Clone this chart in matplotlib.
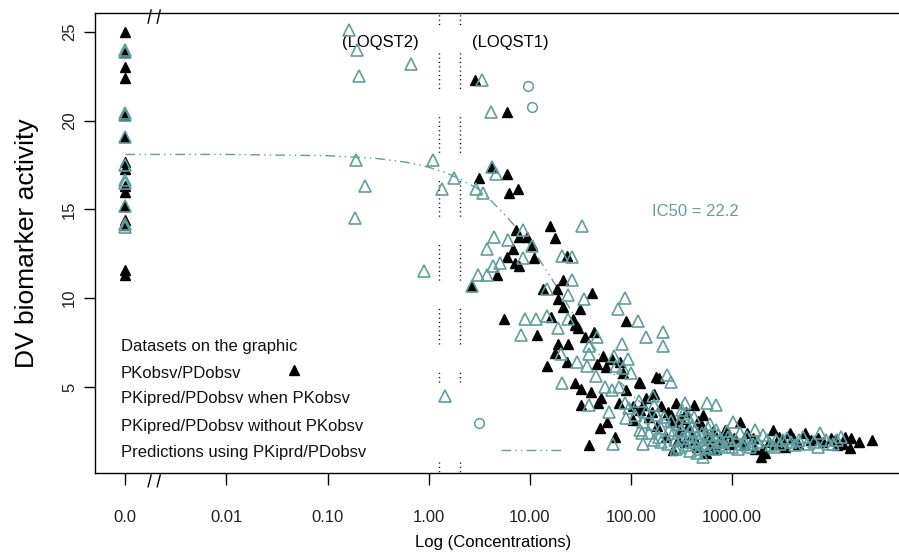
import numpy as np
import matplotlib
matplotlib.use("Agg")
import matplotlib.pyplot as plt
from matplotlib.patches import Rectangle
from matplotlib import transforms

plt.rcParams['font.family'] = ['Liberation Sans', 'DejaVu Sans']

TEAL = '#5F9EA0'

# PKobsv/PDobsv : concentration 0 means no drug measured
black_zero_dv = [25.0, 23.9, 23.0, 22.4, 20.35, 19.1, 17.7, 17.3, 16.3, 16.0,
                 15.2, 14.4, 14.1, 11.6, 11.3]
black_conc = [2.87, 5.96, 3.15, 4.2, 5.96, 6.2, 7.6, 15.8, 7.3, 7.8,
              9.4, 17.8, 10.5, 6.8, 6.0, 7.1, 7.8, 11.0, 23.4, 4.7,
              2.7, 21.5, 13.5, 18.6, 41, 19.1, 21.4, 31, 5.6, 16.2,
              27, 89, 28, 30, 11.8, 35, 43.5, 19.1, 24, 17.9,
              53, 65, 78, 23.4, 46, 56, 83, 14.8, 120, 123,
              178, 190, 28, 32, 40, 51, 47, 32, 76, 90,
              105, 123, 140, 160, 200, 58, 49, 105, 70, 38,
              150, 180, 220, 250, 260, 290, 300, 340, 370, 400,
              419, 450, 460, 500, 550, 600, 650, 700, 800, 850,
              950, 1200, 1300, 1600, 1950, 2000, 2100, 2300, 2550, 2900,
              3300, 3700, 4500, 5200, 6000, 8000, 9500, 11000, 12500, 14500,
              15000, 24000, 130, 170, 230, 280, 310, 350, 430, 520,
              560, 620, 750, 900, 1050, 1400, 1700, 2700, 3100, 4000,
              7000, 10500, 13000, 18000, 260]
black_dv = [22.3, 20.5, 16.8, 17.4, 17.0, 15.9, 16.15, 14.05, 13.85, 13.45,
            13.45, 13.4, 13.0, 12.8, 12.3, 12.0, 11.8, 12.25, 12.4, 11.3,
            10.7, 11.05, 10.5, 10.5, 10.3, 9.95, 9.5, 9.4, 8.8, 8.95,
            8.85, 8.7, 8.5, 8.3, 7.9, 7.8, 8.1, 7.4, 7.4, 6.9,
            6.75, 6.6, 6.4, 6.4, 6.3, 6.1, 5.8, 6.2, 5.3, 5.2,
            5.55, 5.5, 5.2, 4.9, 4.7, 4.4, 4.1, 4.0, 4.1, 4.8,
            3.9, 3.7, 4.4, 3.6, 3.9, 3.0, 2.7, 3.15, 2.2, 1.7,
            3.3, 2.8, 2.2, 3.4, 3.0, 2.0, 2.5, 1.9, 2.8, 2.3,
            4.0, 1.6, 3.1, 2.8, 1.3, 2.0, 2.5, 1.5, 2.2, 2.6,
            1.8, 3.0, 1.7, 2.1, 1.06, 1.5, 1.3, 1.9, 2.6, 2.2,
            1.6, 2.4, 1.8, 2.4, 2.0, 1.9, 2.1, 1.7, 1.8, 1.55,
            2.1, 2.0, 4.0, 4.6, 3.6, 4.1, 3.2, 3.6, 2.0, 3.4,
            2.2, 1.7, 1.9, 2.4, 2.1, 2.4, 1.5, 1.8, 2.0, 2.1,
            2.1, 2.0, 2.2, 1.9, 1.45]

# PKipred/PDobsv when PKobsv
teal_zero_dv = [24.0, 23.85, 20.45, 20.35, 19.1, 17.5, 16.65, 16.5, 15.2, 14.2, 14.0]
teal_conc = [0.163, 0.196, 0.67, 0.205, 0.192, 0.236, 0.187, 1.10, 1.78, 1.36,
             0.90, 2.94, 3.45, 4.2, 4.6, 3.37, 4.14, 32.8, 8.6, 4.4,
             6.1, 10.5, 3.8, 8.6, 5.1, 4.3, 3.1, 3.8, 2.7, 21,
             26, 26, 14.8, 24, 87, 34, 74, 9.0, 11.5, 14.8,
             23.6, 117, 19.1, 8.2, 46, 142, 209, 209, 81, 38,
             20.4, 38, 68, 93, 29, 37, 71, 83, 100, 229,
             251, 21, 45, 55, 65, 76, 166, 120, 170, 38,
             87, 95, 341, 560, 690, 316, 140, 60, 110, 180,
             363, 420, 89, 250, 130, 300, 600, 1020, 400, 200,
             123, 1680, 700, 260, 150, 129, 380, 7400, 560, 2000,
             450, 900, 1400, 5000, 12000, 320, 3500, 170, 1100, 2700,
             8500, 420, 640, 800, 1800, 6500, 66, 132, 230, 520,
             1250, 3000, 10000, 350, 740, 2400, 4200, 600, 1000, 1500,
             280, 480, 513, 160, 190, 210, 240, 270, 310, 330,
             360, 390, 430, 470, 500, 540, 580, 620, 660, 720,
             760, 850, 880, 950, 1150, 1200, 1350, 1600, 2200, 2600,
             3200, 3800, 4600, 5500, 7000, 9000, 11000, 450, 380, 300,
             200]
teal_dv = [25.1, 24.0, 23.2, 22.5, 17.8, 16.3, 14.5, 17.8, 16.8, 16.15,
           11.55, 16.15, 15.9, 17.4, 17.0, 22.3, 20.5, 14.05, 13.85, 13.45,
           13.3, 12.95, 12.8, 12.25, 12.0, 11.8, 11.3, 11.3, 10.7, 12.4,
           12.3, 11.05, 10.5, 10.2, 10.0, 9.95, 9.4, 8.8, 8.85, 9.0,
           8.85, 8.7, 8.3, 7.9, 7.8, 7.8, 8.1, 7.3, 7.4, 7.3,
           6.85, 6.85, 6.75, 6.6, 6.4, 6.2, 6.2, 6.05, 5.8, 5.7,
           5.3, 5.2, 5.6, 5.0, 4.8, 5.0, 4.5, 4.2, 4.0, 4.0,
           4.1, 3.8, 4.1, 4.1, 4.0, 3.7, 3.6, 3.6, 3.4, 3.4,
           3.3, 3.3, 3.25, 3.1, 3.0, 2.9, 2.9, 3.0, 2.8, 2.7,
           2.6, 2.6, 2.6, 2.4, 2.4, 2.4, 2.5, 2.4, 2.3, 2.3,
           2.2, 2.2, 2.2, 2.2, 2.2, 2.1, 2.1, 2.0, 2.0, 2.0,
           2.0, 1.9, 1.9, 1.9, 1.9, 1.9, 1.8, 1.8, 1.8, 1.8,
           1.8, 1.8, 1.8, 1.7, 1.7, 1.7, 1.7, 1.6, 1.6, 1.6,
           1.5, 1.5, 1.06, 2.9, 2.2, 3.3, 2.6, 2.0, 2.6, 3.5,
           2.3, 1.9, 2.6, 2.0, 2.4, 1.6, 2.7, 2.1, 1.5, 2.3,
           2.0, 1.6, 2.5, 2.0, 1.5, 2.4, 1.9, 1.8, 2.0, 1.6,
           2.0, 1.9, 2.0, 1.8, 1.6, 1.8, 2.0, 1.3, 1.4, 1.6,
           1.9]

# PKipred/PDobsv without PKobsv
circle_conc = [9.6, 10.5]
circle_dv = [21.95, 20.8]

# model predictions using PKiprd/PDobsv
pred_conc = [0, 0.01, 0.1, 0.3, 0.6, 1, 1.5, 2, 3, 4, 6, 8, 10, 13, 16, 22,
             30, 40, 60, 100, 150, 250, 500, 1000, 2000, 5000]
pred_dv = [18.1, 18.1, 18.03, 17.88, 17.66, 17.38, 17.05, 16.74, 16.2, 15.57,
           14.55, 13.72, 13.0, 12.0, 11.2, 9.93, 8.62, 7.5, 6.06, 4.6,
           3.73, 2.95, 2.3, 1.95, 1.78, 1.65]

loqst = [1.25, 2.05]
xtick_labels = ['0.0', '0.01', '0.10', '1.00', '10.00', '100.00', '1000.00']
legend_lines = ['Datasets on the graphic', 'PKobsv/PDobsv',
                'PKipred/PDobsv when PKobsv', 'PKipred/PDobsv without PKobsv',
                'Predictions using PKiprd/PDobsv']
ic50 = 22.2

ZERO_POS = -3.0


def xpos(c):
    c = np.asarray(c, dtype=float)
    safe = np.where(c > 0, c, 1.0)
    return np.where(c > 0, np.log10(safe), ZERO_POS)


fig = plt.figure(figsize=(8.99, 5.53), dpi=100)
ax = fig.add_axes([95 / 899, 1 - 473 / 553, 804 / 899, 460 / 553])

ymin, ymax = 0.15, 26.07

# LOQ limits, drawn as broken dotted verticals
dots = [0.8, 2.3] * 8 + [0.8, 20.4]
for c in loqst:
    ax.plot([xpos(c)] * 2, [ymax, ymin], color='k', lw=1.0,
            ls=(17.3, dots), zorder=1)

ax.plot(xpos(pred_conc), pred_dv, color=TEAL, lw=1.0,
        ls=(0, (7, 3, 1, 3, 1, 3)), zorder=2)

ax.plot(xpos([0] * len(black_zero_dv)), black_zero_dv, ls='none', marker='^',
        color='k', ms=7.5, zorder=3)
ax.plot(xpos(black_conc), black_dv, ls='none', marker='^', color='k', ms=7.5, zorder=3)
ax.plot(xpos([0] * len(teal_zero_dv)), teal_zero_dv, ls='none', marker='^',
        mfc='none', mec=TEAL, mew=1.2, ms=8.5, zorder=4)
ax.plot(xpos(teal_conc), teal_dv, ls='none', marker='^', mfc='none',
        mec=TEAL, mew=1.2, ms=8.5, zorder=4)
ax.plot(xpos(circle_conc), circle_dv, ls='none', marker='o', mfc='none',
        mec=TEAL, mew=1.1, ms=7, zorder=4)

# legend block
ax.add_patch(Rectangle((0.03, 0.026), 0.47, 0.165, transform=ax.transAxes,
                       fc='white', ec='none', zorder=2.5))
for yy, s in zip([0.276, 0.217, 0.161, 0.102, 0.0435], legend_lines):
    ax.text(0.032, yy, s, transform=ax.transAxes, fontsize=12,
            ha='left', va='center', color='#111111', zorder=5)
ax.plot([0.2475], [0.224], transform=ax.transAxes, marker='^', color='k',
        ms=7.5, ls='none', zorder=5)
ax.plot([0.435], [0.167], transform=ax.transAxes, marker='^', mfc='none',
        mec=TEAL, mew=1.2, ms=8.5, ls='none', zorder=5)
ax.plot([0.478], [0.109], transform=ax.transAxes, marker='o', mfc='none',
        mec=TEAL, mew=1.1, ms=7, ls='none', zorder=5)
ax.plot([0.505, 0.58], [0.05, 0.05], transform=ax.transAxes, color=TEAL,
        lw=1.0, ls=(0, (7, 3, 1, 3, 1, 3)), zorder=5)

ax.text(xpos(loqst[0]) - 0.2, 24.38, '(LOQST2)', fontsize=12, ha='right', va='center')
ax.text(xpos(loqst[1]) + 0.12, 24.38, '(LOQST1)', fontsize=12, ha='left', va='center')
ax.text(np.log10(160), 14.9, 'IC50 = %.1f' % ic50, color=TEAL, fontsize=12,
        ha='left', va='center')

# axis break marks after the zero position
bt = transforms.blended_transform_factory(ax.transData, ax.transAxes)
for bx in [-2.76, -2.67]:
    ax.plot([bx - 0.015, bx + 0.015], [0.978, 1.0065], transform=bt,
            color='k', lw=1.0, clip_on=False)
    ax.plot([bx - 0.015, bx + 0.015], [-0.030, -0.0043], transform=bt,
            color='k', lw=1.0, clip_on=False)

ax.set_xlim(-3.30, 4.65)
ax.set_ylim(ymin, ymax)
ax.set_xticks(range(-3, 4))
ax.set_xticklabels(xtick_labels)
ax.set_yticks([5, 10, 15, 20, 25])
ax.tick_params(axis='x', length=8.5, width=1, pad=18, labelsize=12, labelcolor='#222222')
ax.tick_params(axis='y', length=8, width=1, pad=5, labelsize=12, labelcolor='#222222')
plt.setp(ax.get_yticklabels(), rotation=90, va='center', ha='right')
for s in ['left', 'top', 'bottom']:
    ax.spines[s].set_linewidth(1.0)
ax.spines['right'].set_visible(False)

fig.text(27 / 899, 1 - 243 / 553, 'DV biomarker activity', rotation=90,
         fontsize=19, ha='center', va='center')
fig.text(493 / 899, 1 - 543 / 553, 'Log (Concentrations)', fontsize=12,
         ha='center', va='center')

fig.savefig('out.png', dpi=100)
